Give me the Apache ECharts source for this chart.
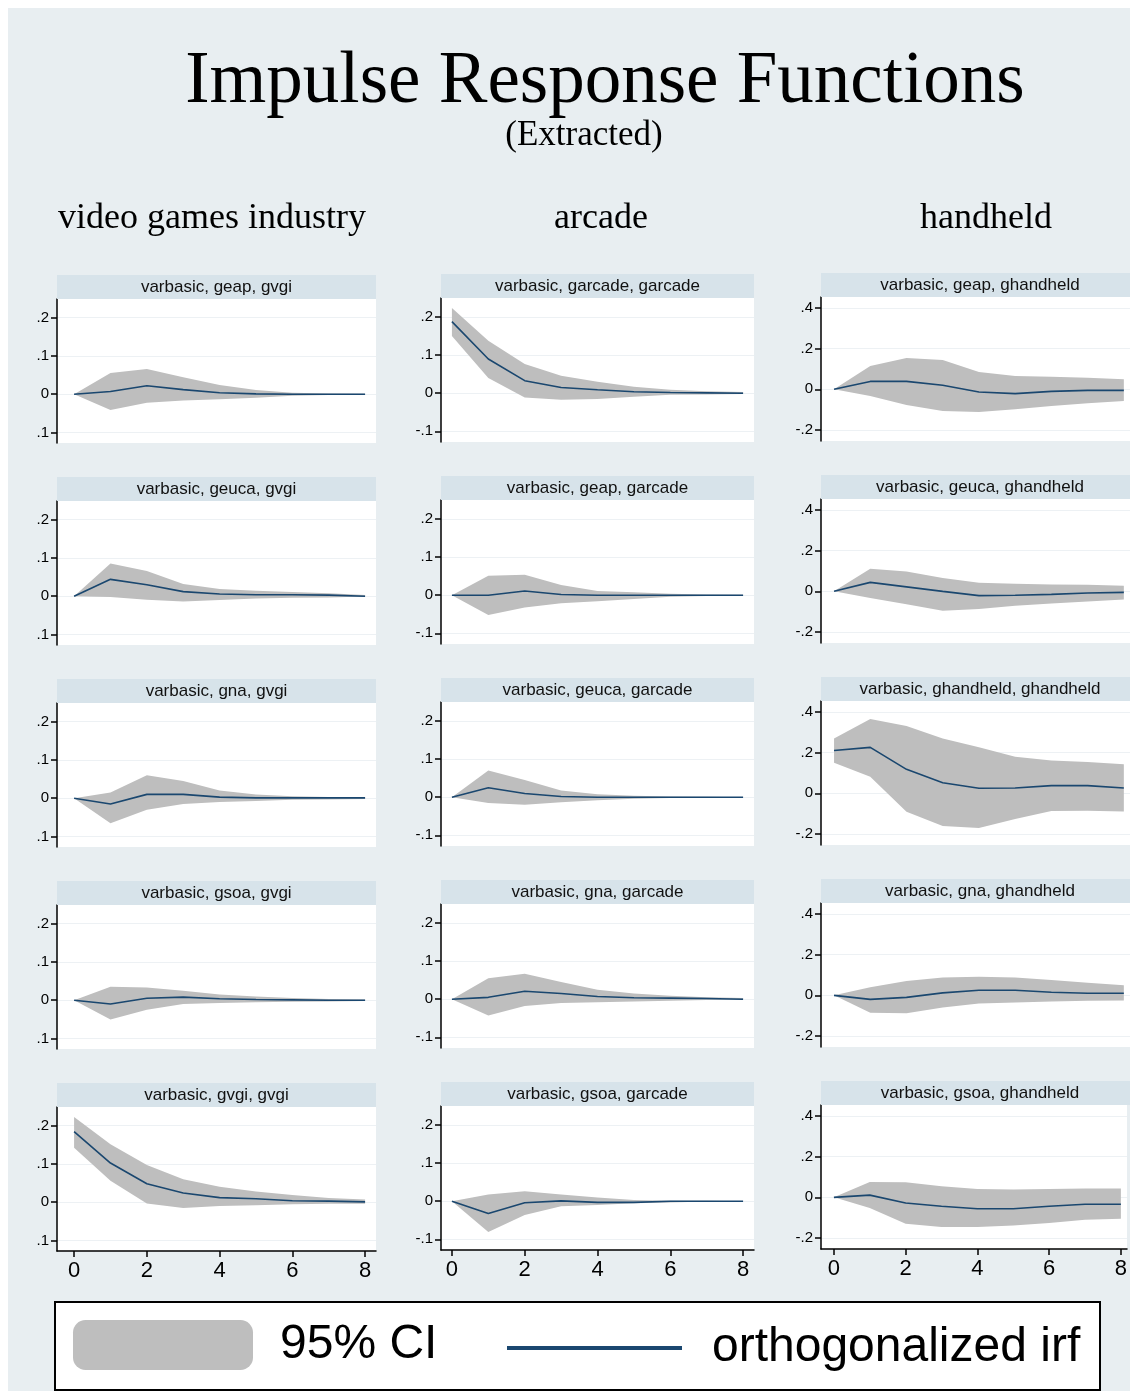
<!DOCTYPE html>
<html>
<head>
<meta charset="utf-8">
<title>Impulse Response Functions</title>
<script src="https://cdn.jsdelivr.net/npm/echarts@6/dist/echarts.min.js"></script>
<style>
  html, body { margin: 0; padding: 0; background: #ffffff; }
  #main { width: 1130px; height: 1391px; }
</style>
</head>
<body>
<div id="main"></div>
<script>
// ---- data -------------------------------------------------------------
const steps = [0, 1, 2, 3, 4, 5, 6, 7, 8];
const columnTitles = ['video games industry', 'arcade', 'handheld'];
const xTicks = [0, 2, 4, 6, 8];
const xTickLabels = ['0', '2', '4', '6', '8'];
const yTicksByColumn = [[-0.1, 0, 0.1, 0.2], [-0.1, 0, 0.1, 0.2], [-0.2, 0, 0.2, 0.4]];
const yTickLabelsByColumn = [['.1', '0', '.1', '.2'], ['-.1', '0', '.1', '.2'], ['-.2', '0', '.2', '.4']];

// response: gvgi
const geap_gvgi_irf = [0, 0.007, 0.022, 0.012, 0.004, 0.001, 0, 0, 0];
const geap_gvgi_lo  = [0, -0.041, -0.022, -0.016, -0.013, -0.009, -0.004, -0.002, -0.001];
const geap_gvgi_hi  = [0, 0.055, 0.066, 0.044, 0.024, 0.011, 0.004, 0.002, 0.001];

const geuca_gvgi_irf = [0, 0.044, 0.030, 0.012, 0.006, 0.004, 0.004, 0.003, 0];
const geuca_gvgi_lo  = [0, -0.002, -0.009, -0.014, -0.010, -0.006, -0.004, -0.003, -0.001];
const geuca_gvgi_hi  = [0, 0.085, 0.066, 0.032, 0.019, 0.014, 0.011, 0.008, 0.003];

const gna_gvgi_irf = [0, -0.015, 0.010, 0.010, 0.003, 0.001, 0.001, 0.001, 0.001];
const gna_gvgi_lo  = [0, -0.065, -0.030, -0.015, -0.010, -0.007, -0.004, -0.003, -0.002];
const gna_gvgi_hi  = [0, 0.015, 0.060, 0.045, 0.020, 0.010, 0.005, 0.003, 0.002];

const gsoa_gvgi_irf = [0, -0.010, 0.005, 0.008, 0.004, 0.002, 0.001, 0, 0];
const gsoa_gvgi_lo  = [0, -0.050, -0.025, -0.010, -0.007, -0.005, -0.004, -0.003, -0.002];
const gsoa_gvgi_hi  = [0, 0.035, 0.033, 0.025, 0.015, 0.010, 0.006, 0.003, 0.002];

const gvgi_gvgi_irf = [0.184, 0.102, 0.048, 0.024, 0.012, 0.009, 0.004, 0.003, 0.001];
const gvgi_gvgi_lo  = [0.142, 0.056, -0.003, -0.015, -0.010, -0.008, -0.005, -0.004, -0.004];
const gvgi_gvgi_hi  = [0.222, 0.151, 0.097, 0.060, 0.040, 0.028, 0.019, 0.011, 0.007];

// response: garcade
const garcade_garcade_irf = [0.188, 0.090, 0.033, 0.015, 0.009, 0.004, 0.002, 0.001, 0];
const garcade_garcade_lo  = [0.150, 0.040, -0.011, -0.017, -0.015, -0.009, -0.004, -0.003, -0.002];
const garcade_garcade_hi  = [0.224, 0.138, 0.077, 0.046, 0.030, 0.017, 0.009, 0.005, 0.003];

const geap_garcade_irf = [0, 0, 0.011, 0.002, 0, 0, 0, 0, 0];
const geap_garcade_lo  = [0, -0.052, -0.032, -0.021, -0.016, -0.010, -0.004, -0.002, -0.001];
const geap_garcade_hi  = [0, 0.051, 0.054, 0.027, 0.011, 0.008, 0.004, 0.002, 0.001];

const geuca_garcade_irf = [0, 0.025, 0.010, 0.002, 0, 0, 0, 0, 0];
const geuca_garcade_lo  = [0, -0.015, -0.020, -0.013, -0.008, -0.004, -0.002, -0.001, 0];
const geuca_garcade_hi  = [0, 0.070, 0.045, 0.018, 0.008, 0.004, 0.002, 0.001, 0];

const gna_garcade_irf = [0, 0.005, 0.021, 0.015, 0.007, 0.004, 0.003, 0.002, 0];
const gna_garcade_lo  = [0, -0.043, -0.018, -0.010, -0.008, -0.006, -0.004, -0.002, -0.001];
const gna_garcade_hi  = [0, 0.055, 0.067, 0.045, 0.025, 0.015, 0.009, 0.005, 0.003];

const gsoa_garcade_irf = [0, -0.032, -0.004, 0.001, -0.003, -0.003, 0, 0, 0];
const gsoa_garcade_lo  = [0, -0.081, -0.036, -0.013, -0.010, -0.005, -0.003, -0.001, 0];
const gsoa_garcade_hi  = [0, 0.018, 0.026, 0.018, 0.010, 0.003, 0.001, 0.001, 0];

// response: ghandheld
const geap_ghandheld_irf = [0, 0.039, 0.039, 0.020, -0.013, -0.021, -0.010, -0.005, -0.005];
const geap_ghandheld_lo  = [0, -0.033, -0.077, -0.107, -0.111, -0.098, -0.082, -0.069, -0.057];
const geap_ghandheld_hi  = [0, 0.115, 0.154, 0.144, 0.085, 0.066, 0.062, 0.057, 0.049];

const geuca_ghandheld_irf = [0, 0.044, 0.022, 0, -0.021, -0.019, -0.015, -0.008, -0.005];
const geuca_ghandheld_lo  = [0, -0.033, -0.063, -0.096, -0.087, -0.071, -0.060, -0.050, -0.040];
const geuca_ghandheld_hi  = [0, 0.111, 0.098, 0.066, 0.042, 0.037, 0.034, 0.032, 0.028];

const ghandheld_ghandheld_irf = [0.211, 0.226, 0.118, 0.052, 0.025, 0.026, 0.038, 0.038, 0.026];
const ghandheld_ghandheld_lo  = [0.151, 0.082, -0.090, -0.161, -0.170, -0.126, -0.087, -0.085, -0.089];
const ghandheld_ghandheld_hi  = [0.270, 0.366, 0.331, 0.270, 0.226, 0.180, 0.161, 0.154, 0.143];

const gna_ghandheld_irf = [0, -0.020, -0.010, 0.012, 0.025, 0.025, 0.015, 0.010, 0.010];
const gna_ghandheld_lo  = [0, -0.085, -0.088, -0.060, -0.040, -0.035, -0.030, -0.027, -0.025];
const gna_ghandheld_hi  = [0, 0.040, 0.070, 0.088, 0.092, 0.088, 0.075, 0.062, 0.050];

const gsoa_ghandheld_irf = [0, 0.011, -0.028, -0.044, -0.056, -0.056, -0.044, -0.034, -0.034];
const gsoa_ghandheld_lo  = [0, -0.052, -0.130, -0.146, -0.146, -0.139, -0.126, -0.110, -0.105];
const gsoa_ghandheld_hi  = [0, 0.075, 0.074, 0.054, 0.041, 0.038, 0.041, 0.043, 0.043];

// panels, column by column (response), top to bottom (impulse)
const panels = [
  { title: 'varbasic, geap, gvgi',            irf: geap_gvgi_irf,   lo: geap_gvgi_lo,   hi: geap_gvgi_hi },
  { title: 'varbasic, geuca, gvgi',           irf: geuca_gvgi_irf,  lo: geuca_gvgi_lo,  hi: geuca_gvgi_hi },
  { title: 'varbasic, gna, gvgi',             irf: gna_gvgi_irf,    lo: gna_gvgi_lo,    hi: gna_gvgi_hi },
  { title: 'varbasic, gsoa, gvgi',            irf: gsoa_gvgi_irf,   lo: gsoa_gvgi_lo,   hi: gsoa_gvgi_hi },
  { title: 'varbasic, gvgi, gvgi',            irf: gvgi_gvgi_irf,   lo: gvgi_gvgi_lo,   hi: gvgi_gvgi_hi },
  { title: 'varbasic, garcade, garcade',      irf: garcade_garcade_irf, lo: garcade_garcade_lo, hi: garcade_garcade_hi },
  { title: 'varbasic, geap, garcade',         irf: geap_garcade_irf,  lo: geap_garcade_lo,  hi: geap_garcade_hi },
  { title: 'varbasic, geuca, garcade',        irf: geuca_garcade_irf, lo: geuca_garcade_lo, hi: geuca_garcade_hi },
  { title: 'varbasic, gna, garcade',          irf: gna_garcade_irf,   lo: gna_garcade_lo,   hi: gna_garcade_hi },
  { title: 'varbasic, gsoa, garcade',         irf: gsoa_garcade_irf,  lo: gsoa_garcade_lo,  hi: gsoa_garcade_hi },
  { title: 'varbasic, geap, ghandheld',       irf: geap_ghandheld_irf,  lo: geap_ghandheld_lo,  hi: geap_ghandheld_hi },
  { title: 'varbasic, geuca, ghandheld',      irf: geuca_ghandheld_irf, lo: geuca_ghandheld_lo, hi: geuca_ghandheld_hi },
  { title: 'varbasic, ghandheld, ghandheld',  irf: ghandheld_ghandheld_irf, lo: ghandheld_ghandheld_lo, hi: ghandheld_ghandheld_hi },
  { title: 'varbasic, gna, ghandheld',        irf: gna_ghandheld_irf,  lo: gna_ghandheld_lo,  hi: gna_ghandheld_hi },
  { title: 'varbasic, gsoa, ghandheld',       irf: gsoa_ghandheld_irf, lo: gsoa_ghandheld_lo, hi: gsoa_ghandheld_hi }
];

// ---- layout & style ---------------------------------------------------
const SANS = "'Liberation Sans', Arial, sans-serif";
const SERIF = "'Liberation Serif', 'Times New Roman', serif";
const PAGE_BG = '#e8eef1';
const STRIP_BG = '#d7e3ea';
const CI_COLOR = '#bebebe';
const IRF_COLOR = '#1a476f';
const GRID_LINE = '#edf1f4';

// the right-hand column runs past the page edge, so it is cut at x = 1130
const colLeft = [57, 441, 821];
const colWidth = [319, 313, 309];
const stripTextCenter = [216.5, 597.5, 980];
const colCenter = [212, 601, 986];
const plotTop0 = [299, 298, 297];
const plotHeight = 144;
const rowPitch = 202;
const stripHeight = 24;
const xMinByColumn = [-0.47, -0.30, -0.36];
const xMaxByColumn = [8.3, 8.3, 8.17];
const yRangeByColumn = [[-0.127, 0.248], [-0.128, 0.25], [-0.254, 0.454]];

function tickLabel(ticks, labels, v) {
  for (let k = 0; k < ticks.length; k++) {
    if (Math.abs(ticks[k] - v) < 1e-9) return labels[k];
  }
  return '';
}

const grids = [], xAxes = [], yAxes = [], series = [];
const graphics = [
  { type: 'rect', z: 50, shape: { x: 0, y: 0, width: 1130, height: 8 }, style: { fill: '#ffffff' } },
  { type: 'rect', z: 50, shape: { x: 0, y: 0, width: 8, height: 1391 }, style: { fill: '#ffffff' } },
  { type: 'text', z: 10, style: { text: 'Impulse Response Functions', x: 605, y: 83, align: 'center', verticalAlign: 'middle',
      fontSize: 73, fontFamily: SERIF, fill: '#000' } },
  { type: 'text', z: 10, style: { text: '(Extracted)', x: 584, y: 136, align: 'center', verticalAlign: 'middle',
      fontSize: 35, fontFamily: SERIF, fill: '#000' } }
];
columnTitles.forEach((t, c) => {
  graphics.push({ type: 'text', z: 10, style: { text: t, x: colCenter[c], y: 219, align: 'center', verticalAlign: 'middle',
    fontSize: 36, fontFamily: SERIF, fill: '#000' } });
});

panels.forEach((p, i) => {
  const c = Math.floor(i / 5);
  const r = i % 5;
  const top = plotTop0[c] + rowPitch * r;
  const last = r === 4;
  const yTicks = yTicksByColumn[c];
  const yLabels = yTickLabelsByColumn[c];

  grids.push({ left: colLeft[c], top: top, width: colWidth[c], height: plotHeight,
    show: true, backgroundColor: '#ffffff', borderWidth: 0 });

  // panel heading strip
  graphics.push({ type: 'rect', z: 5, shape: { x: colLeft[c], y: top - stripHeight, width: colWidth[c], height: stripHeight },
    style: { fill: STRIP_BG } });
  graphics.push({ type: 'text', z: 6, style: { text: p.title, x: stripTextCenter[c], y: top - stripHeight / 2,
    align: 'center', verticalAlign: 'middle', fontSize: 17, fontFamily: SANS, fill: '#111' } });

  xAxes.push({
    gridIndex: i, type: 'value', min: xMinByColumn[c], max: xMaxByColumn[c],
    axisLine: { show: last, onZero: false, lineStyle: { color: '#000', width: 1.5 } },
    axisTick: { show: last, customValues: xTicks, length: 6, lineStyle: { color: '#000', width: 1.5 } },
    axisLabel: { show: last, customValues: xTicks, margin: 9, fontSize: 22, fontFamily: SANS, color: '#000',
      formatter: v => tickLabel(xTicks, xTickLabels, v) },
    splitLine: { show: false }
  });
  yAxes.push({
    gridIndex: i, type: 'value', min: yRangeByColumn[c][0], max: yRangeByColumn[c][1], splitNumber: 3,
    axisLine: { show: true, onZero: false, lineStyle: { color: '#000', width: 1.5 } },
    axisTick: { show: true, customValues: yTicks, length: 6, lineStyle: { color: '#000', width: 1.5 } },
    axisLabel: { customValues: yTicks, margin: 8, fontSize: 15, fontFamily: SANS, color: '#000',
      formatter: v => tickLabel(yTicks, yLabels, v) },
    splitLine: { show: true, lineStyle: { color: GRID_LINE, width: 1 } }
  });

  // 95% CI band between the lower and upper bounds
  series.push({
    name: '95% CI', type: 'custom', xAxisIndex: i, yAxisIndex: i, z: 2, silent: true,
    data: steps.map((s, k) => [s, p.lo[k], p.hi[k]]),
    encode: { x: 0, y: [1, 2] },
    itemStyle: { color: CI_COLOR },
    renderItem: (params, api) => {
      if (params.dataIndex !== 0) return { type: 'group', children: [] };
      const pts = [];
      for (let k = 0; k < steps.length; k++) pts.push(api.coord([steps[k], p.hi[k]]));
      for (let k = steps.length - 1; k >= 0; k--) pts.push(api.coord([steps[k], p.lo[k]]));
      return { type: 'polygon', shape: { points: pts }, style: { fill: CI_COLOR } };
    }
  });
  // orthogonalized impulse response
  series.push({
    name: 'orthogonalized irf', type: 'line', xAxisIndex: i, yAxisIndex: i, z: 3,
    data: steps.map((s, k) => [s, p.irf[k]]), symbol: 'none', silent: true,
    lineStyle: { color: IRF_COLOR, width: 1.6 }, itemStyle: { color: IRF_COLOR }
  });
});

// legend frame
graphics.push({ type: 'rect', z: 1, shape: { x: 55, y: 1302, width: 1045, height: 88 },
  style: { fill: '#ffffff', stroke: '#000', lineWidth: 2 } });

const option = {
  animation: false,
  backgroundColor: PAGE_BG,
  grid: grids,
  xAxis: xAxes,
  yAxis: yAxes,
  series: series,
  graphic: graphics,
  legend: [
    { z: 20, left: 73, top: 1320, padding: 0, itemWidth: 180, itemHeight: 50, selectedMode: false,
      icon: 'roundRect',
      data: [{ name: '95% CI', itemStyle: { color: CI_COLOR, borderWidth: 0 } }],
      textStyle: { fontSize: 48, fontFamily: SANS, color: '#000', padding: [6, 0, 0, 22] } },
    { z: 20, left: 507, top: 1324, padding: 0, itemWidth: 175, itemHeight: 4, selectedMode: false,
      icon: 'rect',
      data: [{ name: 'orthogonalized irf', itemStyle: { color: IRF_COLOR, borderWidth: 0 } }],
      textStyle: { fontSize: 48, fontFamily: SANS, color: '#000', padding: [0, 0, 0, 25] } }
  ]
};

const chart = echarts.init(document.getElementById('main'), null, { renderer: 'canvas' });
chart.setOption(option);
</script>
</body>
</html>
